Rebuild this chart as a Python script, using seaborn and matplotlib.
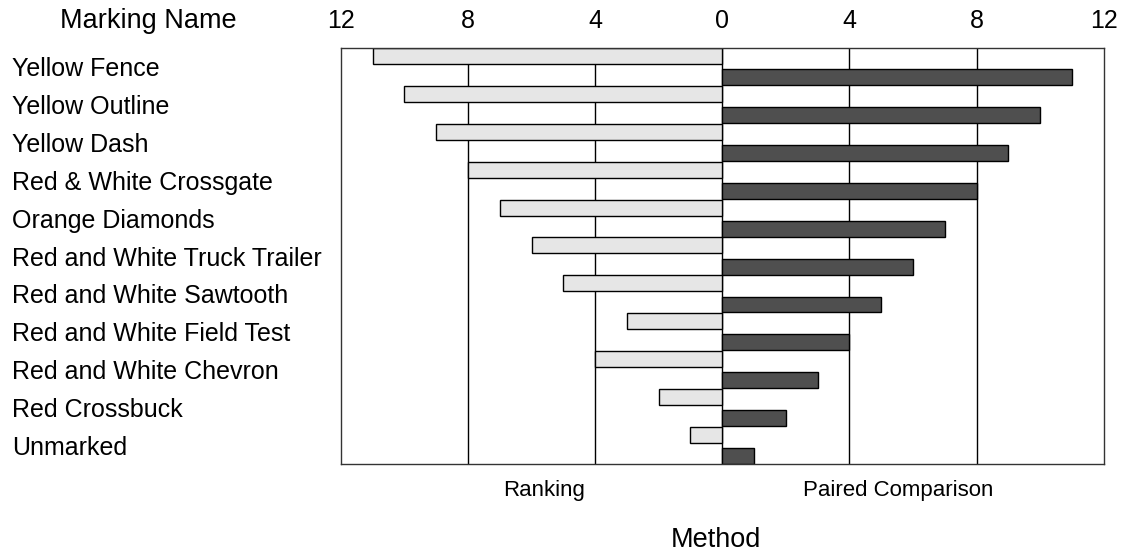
import pandas as pd
import matplotlib
matplotlib.use('Agg')
import matplotlib.pyplot as plt
import seaborn as sns

# Marking names, top to bottom
markings = ['Yellow Fence', 'Yellow Outline', 'Yellow Dash', 'Red & White Crossgate',
            'Orange Diamonds', 'Red and White Truck Trailer', 'Red and White Sawtooth',
            'Red and White Field Test', 'Red and White Chevron', 'Red Crossbuck', 'Unmarked']

# values
ranking = [11, 10, 9, 8, 7, 6, 5, 3, 4, 2, 1]
paired = [11, 10, 9, 8, 7, 6, 5, 4, 3, 2, 1]

methods = ['Ranking', 'Paired Comparison']
tick_vals = [-12, -8, -4, 0, 4, 8, 12]

# long-form table, ranking drawn to the left
df = pd.DataFrame({
    'Marking Name': markings * 2,
    'Method': [methods[0]] * len(markings) + [methods[1]] * len(markings),
    'Score': [-v for v in ranking] + paired,
})

sns.set_style('white')
plt.rcParams['font.family'] = ['Liberation Sans', 'DejaVu Sans']
plt.rcParams['text.color'] = 'black'
plt.rcParams['xtick.color'] = 'black'
plt.rcParams['ytick.color'] = 'black'

fig = plt.figure(figsize=(11.25, 5.56), dpi=100)
ax = fig.add_axes([0.303, 0.165, 0.678, 0.749])

sns.barplot(data=df, x='Score', y='Marking Name', hue='Method', hue_order=methods,
            order=markings, orient='h', width=1.12, gap=0.25,
            palette=['#e6e6e6', '#4f4f4f'], edgecolor='black', linewidth=1,
            legend=False, ax=ax)

ax.set_xlim(-12, 12)
ax.set_ylim(10.5, -0.5)
for v in [-8, -4, 0, 4, 8]:
    ax.axvline(v, color='black', lw=1, zorder=0)

ax.xaxis.tick_top()
ax.set_xticks(tick_vals)
ax.set_xticklabels([str(abs(v)) for v in tick_vals], fontsize=18)
ax.tick_params(axis='x', length=0, pad=11)
ax.set_yticks(range(len(markings)))
ax.set_yticklabels(markings, fontsize=18, ha='left')
ax.tick_params(axis='y', length=0, pad=237)
ax.set_xlabel('')
ax.set_ylabel('')

for s in ax.spines.values():
    s.set_color('#333333')
    s.set_linewidth(1)

fig.text(0.132, 0.962, 'Marking Name', fontsize=19.5, ha='center', va='center')
ax.text(-5.6, 11.19, 'Ranking', fontsize=16, ha='center', va='center')
ax.text(5.55, 11.19, 'Paired Comparison', fontsize=16, ha='center', va='center')
fig.text(0.636, 0.029, 'Method', fontsize=19.5, ha='center', va='center')

fig.savefig('out.png', dpi=100)
